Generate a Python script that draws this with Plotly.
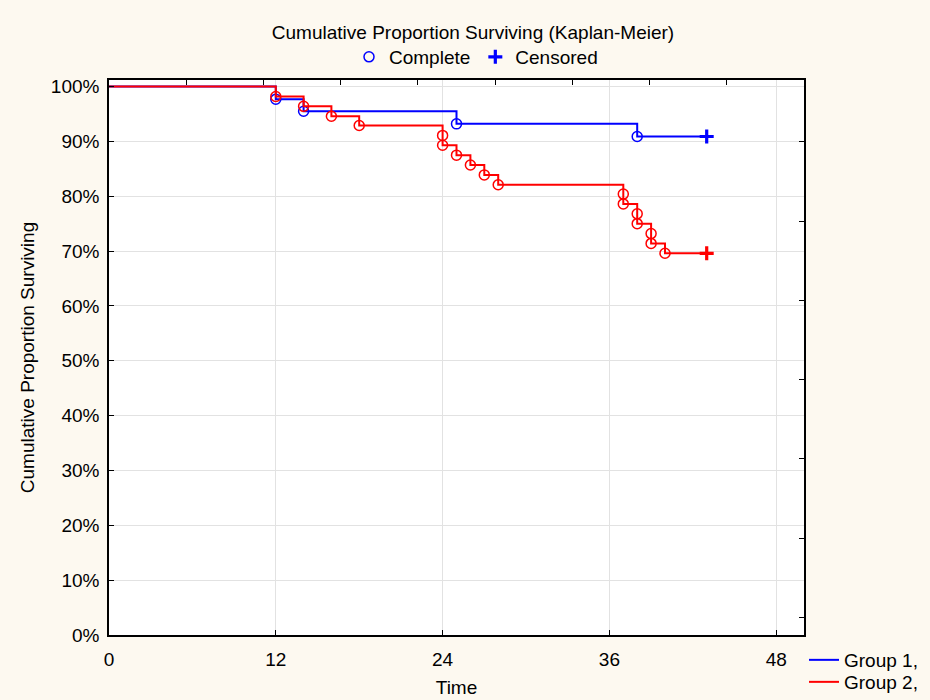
import plotly.graph_objects as go

# Kaplan-Meier estimates (%) right after each completed observation
g1_event_times = [12, 14, 25, 38]
g1_survival = [97.7, 95.5, 93.2, 90.9]
g1_censor_time = 43

g2_event_times = [12, 14, 16, 18, 24, 24, 25, 26, 27, 28, 37, 37, 38, 38, 39, 39, 40]
g2_survival = [98.2, 96.4, 94.6, 92.9, 91.1, 89.3, 87.5, 85.7, 83.9, 82.1,
               80.4, 78.6, 76.8, 75.0, 73.2, 71.4, 69.6]
g2_censor_time = 43

start_survival = 100
x_ticks = [0, 12, 24, 36, 48]
y_ticks = list(range(0, 101, 10))

BLUE = "#0000ff"
RED = "#ff0000"
FONT = "Arial, Liberation Sans, sans-serif"
FS = 19

fig = go.Figure()


def add_group(name, times, surv, censor_t, color, first, line_legend):
    # step curve from time 0 to the last (censored) observation
    xs = [0] + times + [censor_t]
    ys = [start_survival] + surv + [surv[-1]]
    fig.add_trace(go.Scatter(
        x=xs, y=ys, mode="lines", line=dict(color=color, width=2, shape="hv"),
        name=name, legend=line_legend, showlegend=True, hoverinfo="skip"))
    # completed observations
    fig.add_trace(go.Scatter(
        x=times, y=surv, mode="markers", name="Complete",
        marker=dict(symbol="circle-open", size=10, color=color, line=dict(width=1.5)),
        legend="legend", showlegend=first))
    # censored observation
    fig.add_trace(go.Scatter(
        x=[censor_t], y=[surv[-1]], mode="markers", name="Censored",
        marker=dict(symbol="cross-thin", size=10, color=color,
                    line=dict(width=3.2, color=color)),
        legend="legend", showlegend=first))


add_group("Group 1,", g1_event_times, g1_survival, g1_censor_time, BLUE, True, "legend2")
add_group("Group 2,", g2_event_times, g2_survival, g2_censor_time, RED, False, "legend3")

# empty trace that carries the top/right tick axes
fig.add_trace(go.Scatter(x=[None], y=[None], xaxis="x2", yaxis="y2",
                         showlegend=False, hoverinfo="skip"))

group_legend = dict(orientation="v", x=804 / 930, xref="container", xanchor="left",
                    yref="container", yanchor="top", bgcolor="rgba(0,0,0,0)",
                    font=dict(size=FS), tracegroupgap=0)

fig.update_layout(
    width=930, height=700,
    margin=dict(l=109, r=126, t=80, b=65, autoexpand=False),
    paper_bgcolor="#fdf9f0",
    plot_bgcolor="#ffffff",
    font=dict(family=FONT, size=FS, color="#000000"),
    title=dict(text="Cumulative Proportion Surviving (Kaplan-Meier)",
               x=473 / 930, xanchor="center", y=1 - 32 / 700, yanchor="middle",
               font=dict(size=FS)),
    xaxis=dict(range=[0, 50], tickvals=x_ticks, ticks="inside", ticklen=5,
               tickcolor="#000", showline=True, linecolor="#000", linewidth=1.5,
               mirror=True, showgrid=True, gridcolor="#e2e2e2", gridwidth=1,
               zeroline=False, ticklabelstandoff=6, tickfont=dict(size=FS),
               title=dict(text="Time", standoff=12, font=dict(size=FS))),
    yaxis=dict(range=[0, 101.2], tickvals=y_ticks,
               ticktext=[f"{v}%" for v in y_ticks], ticks="inside", ticklen=5,
               tickcolor="#000", showline=True, linecolor="#000", linewidth=1.5,
               mirror=True, showgrid=True, gridcolor="#e2e2e2", gridwidth=1,
               zeroline=False, ticklabelstandoff=4, tickfont=dict(size=FS),
               title=dict(text="Cumulative Proportion Surviving", standoff=11,
                          font=dict(size=FS))),
    xaxis2=dict(overlaying="x", side="top", range=[0, 9], tickvals=list(range(1, 9)),
                ticks="inside", ticklen=5, tickcolor="#000", showticklabels=False,
                showgrid=False, zeroline=False, showline=False),
    yaxis2=dict(overlaying="y", side="right", range=[-0.22, 6.78],
                tickvals=list(range(0, 7)), ticks="inside", ticklen=5,
                tickcolor="#000", showticklabels=False, showgrid=False,
                zeroline=False, showline=False),
    legend=dict(orientation="h", x=476 / 930, xref="container", xanchor="center",
                y=1 - 38 / 700, yref="container", yanchor="top",
                bgcolor="rgba(0,0,0,0)", font=dict(size=FS), itemwidth=30,
                tracegroupgap=0),
    legend2=dict(group_legend, y=1 - 641 / 700),
    legend3=dict(group_legend, y=1 - 663 / 700),
    showlegend=True,
)

fig.write_html("out.html")
